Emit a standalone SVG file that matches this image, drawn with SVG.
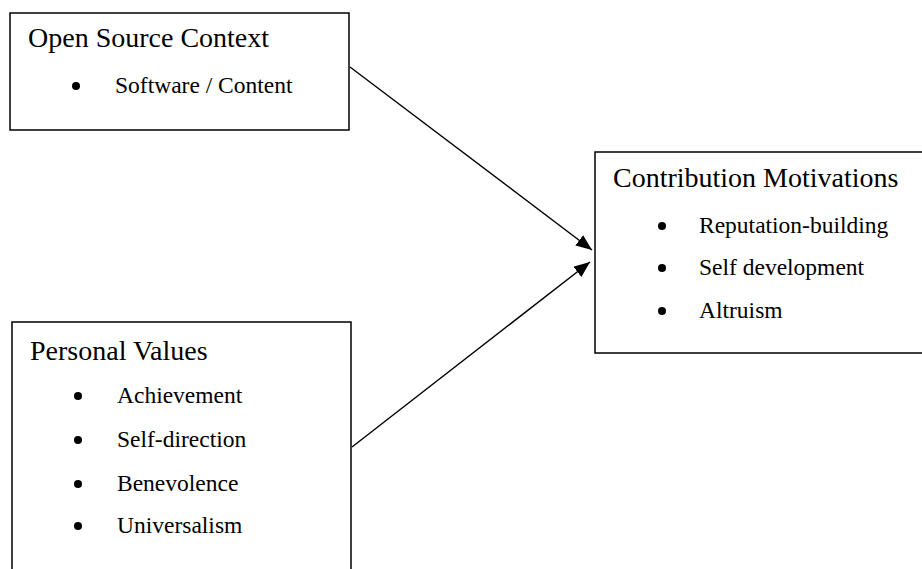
<svg xmlns="http://www.w3.org/2000/svg" width="922" height="569" viewBox="0 0 922 569">
<defs>
<marker id="arr" markerWidth="16" markerHeight="13" refX="16" refY="6.5" orient="auto" markerUnits="userSpaceOnUse">
<path d="M0,0 L16,6.5 L0,13 Z" fill="#000"/>
</marker>
<style>
.box{fill:#fff;stroke:#000;stroke-width:1.5}
.title{font-family:"Liberation Serif","Times New Roman",serif;font-size:28px;fill:#000}
.item{font-family:"Liberation Serif","Times New Roman",serif;font-size:23.5px;fill:#000}
.dot{fill:#000}
.conn{stroke:#000;stroke-width:1.4;fill:none}
</style>
</defs>
<rect width="922" height="569" fill="#fff"/>
<g id="open-source-context">
<rect class="box" x="10" y="13" width="339" height="117"/>
<text class="title" x="28" y="47">Open Source Context</text>
<circle class="dot" cx="76" cy="86" r="4"/>
<text class="item" x="115" y="93">Software / Content</text>
</g>
<g id="contribution-motivations">
<rect class="box" x="595" y="152" width="330" height="201"/>
<text class="title" x="613" y="187">Contribution Motivations</text>
<circle class="dot" cx="662" cy="226" r="4"/>
<text class="item" x="699" y="233">Reputation-building</text>
<circle class="dot" cx="662" cy="268" r="4"/>
<text class="item" x="699" y="275">Self development</text>
<circle class="dot" cx="662" cy="311" r="4"/>
<text class="item" x="699" y="318">Altruism</text>
</g>
<g id="personal-values">
<rect class="box" x="12" y="322" width="339" height="267"/>
<text class="title" x="30" y="360">Personal Values</text>
<circle class="dot" cx="78" cy="396" r="4"/>
<text class="item" x="117" y="403">Achievement</text>
<circle class="dot" cx="78" cy="440" r="4"/>
<text class="item" x="117" y="447">Self-direction</text>
<circle class="dot" cx="78" cy="484" r="4"/>
<text class="item" x="117" y="491">Benevolence</text>
<circle class="dot" cx="78" cy="526" r="4"/>
<text class="item" x="117" y="533">Universalism</text>
</g>
<g id="connectors">
<line class="conn" x1="350" y1="67" x2="592" y2="250" marker-end="url(#arr)"/>
<line class="conn" x1="352" y1="447" x2="590" y2="262" marker-end="url(#arr)"/>
</g>
</svg>
